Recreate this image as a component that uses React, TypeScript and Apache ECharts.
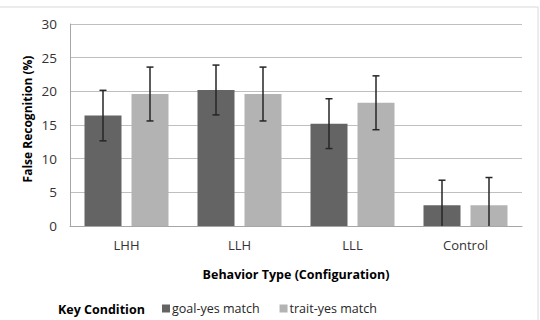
import React, { useEffect, useRef } from "react";
import * as echarts from "echarts";

const categories = ["LHH", "LLH", "LLL", "Control"];
const goalValues = [16.4, 20.2, 15.2, 3.1];
const goalErrors = [3.75, 3.7, 3.7, 3.7];
const traitValues = [19.6, 19.6, 18.3, 3.1];
const traitErrors = [4.0, 4.0, 4.0, 4.1];
const yTicks = { min: 0, max: 30, interval: 5 };

const FONT = "'Open Sans', 'Liberation Sans', sans-serif";
const DARK = "#646464";
const LIGHT = "#b3b3b3";
const BAR_W = 37;
const GAP = 10;

function errorSeries(values: number[], errs: number[], side: number) {
  return {
    type: "custom",
    silent: true,
    z: 5,
    data: values.map((v, i) => [i, v, errs[i]]),
    renderItem: (params: any, api: any) => {
      const idx = api.value(0);
      const v = api.value(1);
      const e = api.value(2);
      const hiV = v + e;
      const loV = Math.max(0, v - e);
      const hi = api.coord([idx, hiV]);
      const lo = api.coord([idx, loV]);
      const x = hi[0] + side * (BAR_W + GAP) / 2;
      const style = { stroke: "#262626", lineWidth: 1.5 };
      const children: any[] = [
        { type: "line", shape: { x1: x, y1: hi[1], x2: x, y2: lo[1] }, style },
        { type: "line", shape: { x1: x - 3.5, y1: hi[1], x2: x + 3.5, y2: hi[1] }, style },
      ];
      if (v - e >= 0) {
        children.push({ type: "line", shape: { x1: x - 3.5, y1: lo[1], x2: x + 3.5, y2: lo[1] }, style });
      }
      return { type: "group", children };
    },
  };
}

export default function App() {
  const ref = useRef<HTMLDivElement>(null);
  useEffect(() => {
    if (!ref.current) return;
    const chart = echarts.init(ref.current, null, { renderer: "svg" });
    chart.setOption({
      animation: false,
      backgroundColor: "#ffffff",
      grid: { left: 70, right: 18, top: 24, bottom: 94 },
      graphic: [
        {
          type: "rect",
          shape: { x: -2, y: 7, width: 540, height: 320 },
          style: { fill: "none", stroke: "#d9d9d9", lineWidth: 1 },
          z: -1,
        },
        {
          type: "text",
          x: 58,
          y: 309,
          style: {
            text: "Key Condition",
            font: `bold 12.5px ${FONT}`,
            fill: "#000",
            verticalAlign: "middle",
          },
        },
        {
          type: "text",
          x: 27,
          y: 119,
          rotation: Math.PI / 2,
          style: {
            text: "False Recognition (%)",
            font: `bold 12px ${FONT}`,
            fill: "#000",
            align: "center",
            verticalAlign: "middle",
          },
        },
      ],
      legend: {
        data: ["goal-yes match", "trait-yes match"],
        left: 157,
        top: 297,
        itemWidth: 8,
        itemHeight: 8,
        itemGap: 20,
        icon: "rect",
        textStyle: { fontFamily: FONT, fontSize: 12.5, color: "#262626", padding: [0, 0, 0, -3] },
      },
      xAxis: {
        type: "category",
        data: categories,
        name: "Behavior Type (Configuration)",
        nameLocation: "middle",
        nameGap: 42,
        nameTextStyle: { fontFamily: FONT, fontSize: 12.5, fontWeight: "bold", color: "#000" },
        axisLine: { lineStyle: { color: "#a6a6a6", width: 1 } },
        axisTick: { show: false },
        axisLabel: { fontFamily: FONT, fontSize: 13, color: "#333333", margin: 12 },
      },
      yAxis: {
        type: "value",
        min: yTicks.min,
        max: yTicks.max,
        interval: yTicks.interval,
        axisLine: { show: true, lineStyle: { color: "#a6a6a6", width: 1 } },
        axisTick: { show: false },
        axisLabel: { fontFamily: FONT, fontSize: 13.5, color: "#333333", margin: 13 },
        splitLine: { lineStyle: { color: "#bfbfbf", width: 1 } },
      },
      series: [
        {
          name: "goal-yes match",
          type: "bar",
          data: goalValues,
          barWidth: BAR_W,
          barGap: `${(GAP / BAR_W) * 100}%`,
          itemStyle: { color: DARK },
        },
        {
          name: "trait-yes match",
          type: "bar",
          data: traitValues,
          barWidth: BAR_W,
          itemStyle: { color: LIGHT },
        },
        errorSeries(goalValues, goalErrors, -1),
        errorSeries(traitValues, traitErrors, 1),
      ],
    });
    return () => chart.dispose();
  }, []);
  return (
    <div
      ref={ref}
      style={{ position: "absolute", left: 0, top: 0, width: 540, height: 320 }}
    />
  );
}
